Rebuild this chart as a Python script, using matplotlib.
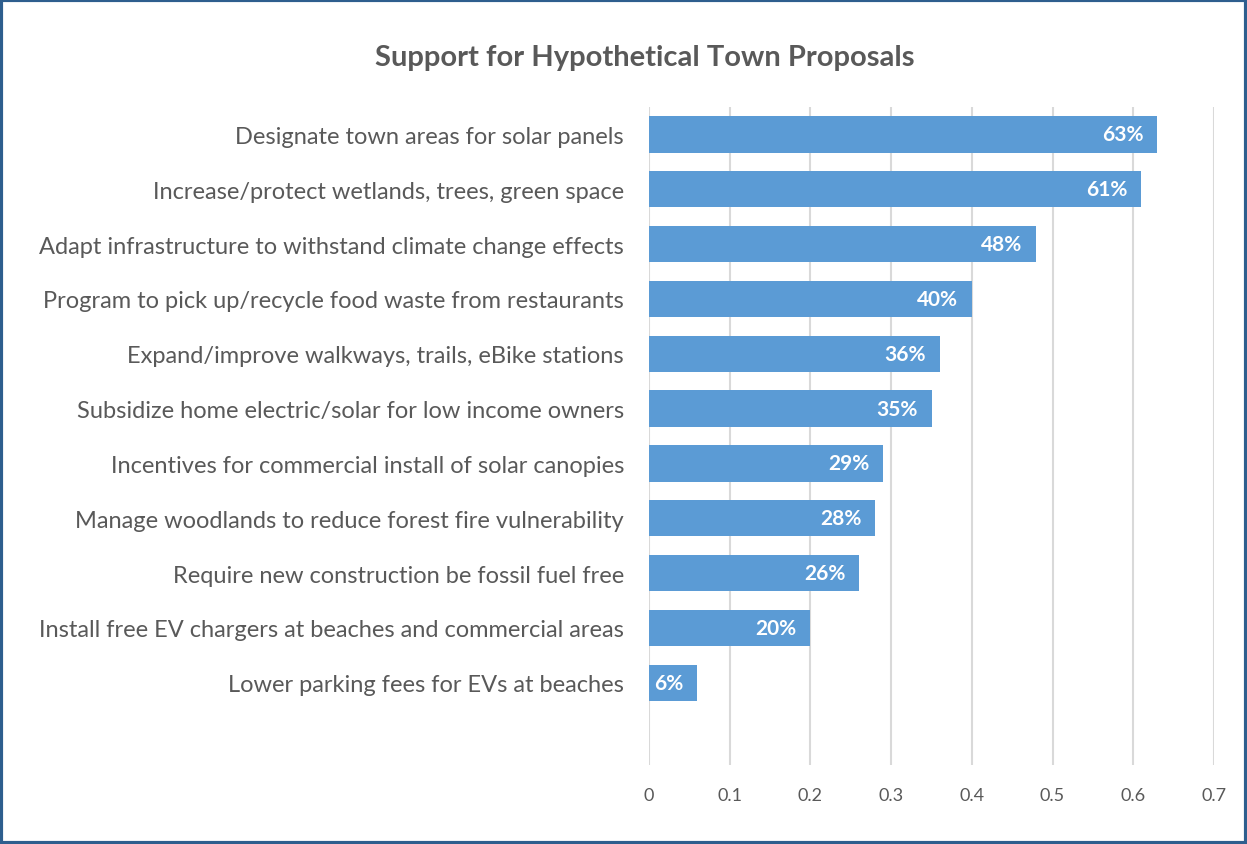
import matplotlib
matplotlib.use("Agg")
import matplotlib.pyplot as plt
from matplotlib.patches import Rectangle

# ---- data ----
proposals = [
    "Designate town areas for solar panels",
    "Increase/protect wetlands, trees, green space",
    "Adapt infrastructure to withstand climate change effects",
    "Program to pick up/recycle food waste from restaurants",
    "Expand/improve walkways, trails, eBike stations",
    "Subsidize home electric/solar for low income owners",
    "Incentives for commercial install of solar canopies",
    "Manage woodlands to reduce forest fire vulnerability",
    "Require new construction be fossil fuel free",
    "Install free EV chargers at beaches and commercial areas",
    "Lower parking fees for EVs at beaches",
]
support = [0.63, 0.61, 0.48, 0.40, 0.36, 0.35, 0.29, 0.28, 0.26, 0.20, 0.06]
x_ticks = [0, 0.1, 0.2, 0.3, 0.4, 0.5, 0.6, 0.7]

BAR = "#5B9BD5"
TEXT = "#595959"
GRID = "#D9D9D9"

plt.rcParams['font.family'] = ['Lato', 'DejaVu Sans']

fig = plt.figure(figsize=(12.47, 8.45), dpi=100)
ax = fig.add_axes([0.5205, 0.0935, 0.453, 0.7787])

ypos = list(range(len(proposals)))
bars = ax.barh(ypos, support, height=0.66, color=BAR, zorder=3)

for y, v in zip(ypos, support):
    ax.text(v - 0.017, y, f"{v*100:.0f}%", ha="right", va="center",
            color="white", fontsize=15, fontweight="bold", zorder=4)

# one blank slot under the last bar, like the original
ax.set_ylim(len(proposals) + 0.5, -0.5)
ax.set_xlim(0, 0.7)
ax.set_yticks(ypos)
ax.set_yticklabels(proposals, fontsize=17, color=TEXT)
ax.set_xticks(x_ticks)
ax.set_xticklabels([f"{t:g}" for t in x_ticks], fontsize=13, color=TEXT)
ax.tick_params(axis="both", length=0)
ax.tick_params(axis="y", pad=18)
ax.tick_params(axis="x", pad=16)
ax.grid(axis="x", color=GRID, linewidth=1.5, zorder=0)
for s in ax.spines.values():
    s.set_visible(False)

fig.text(0.517, 0.931, "Support for Hypothetical Town Proposals", ha="center",
         va="center", fontsize=21, fontweight="bold", color=TEXT)

fig.patches.append(Rectangle((0.001, 0.001), 0.998, 0.998, transform=fig.transFigure,
                             fill=False, edgecolor="#2E5E8E", linewidth=3))

fig.savefig("out.png", dpi=100)
